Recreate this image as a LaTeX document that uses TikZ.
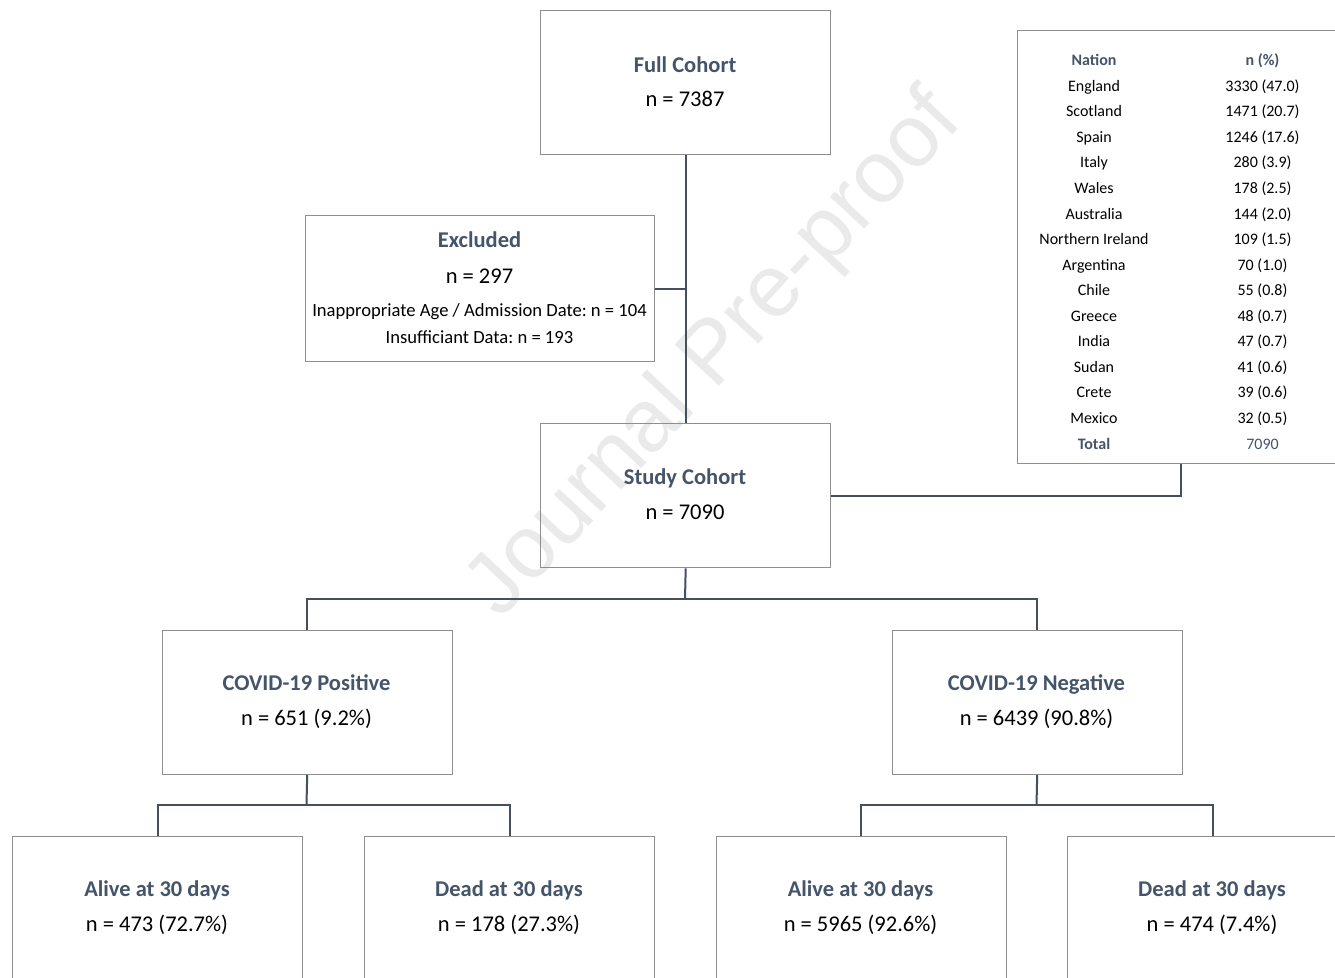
\documentclass[tikz,border=0pt]{standalone}
\usepackage{fontspec}
\setmainfont{Carlito}
\newfontfamily\wmfont{Liberation Sans}
\frenchspacing
\definecolor{titlec}{HTML}{44546A}
\definecolor{boxgray}{HTML}{8E8E8E}
\definecolor{conncol}{HTML}{464F5E}
\definecolor{wmgray}{HTML}{EAEAEA}
\begin{document}
\begin{tikzpicture}[x=1pt,y=-1pt,
  box/.style={draw=boxgray, line width=1.4pt, minimum width=290pt, minimum height=144pt, inner sep=0pt, anchor=north west},
  conn/.style={draw=conncol, line width=2pt},
  ttl/.style={font=\fontsize{22.5}{27}\selectfont\bfseries, text=titlec, anchor=base, inner sep=0pt},
  num/.style={font=\fontsize{22.5}{27}\selectfont, text=black, anchor=base, inner sep=0pt},
  det/.style={font=\fontsize{18.6}{22}\selectfont, text=black, anchor=base, inner sep=0pt},
  tcell/.style={font=\fontsize{16}{19}\selectfont, text=black, anchor=base, inner sep=0pt},
  thead/.style={font=\fontsize{16}{19}\selectfont\bfseries, text=titlec, anchor=base, inner sep=0pt},
  wm/.style={font=\wmfont\fontsize{88}{100}\selectfont, text=wmgray, rotate=47, inner sep=0pt}]
\useasboundingbox (0,0) rectangle (1335,977);
\clip (0,0) rectangle (1335,977);
\fill[white] (0,0) rectangle (1335,977);

% watermark
\node[wm] (wmark) at (716,356) {Journal Pre-proof};

% boxes
\node[box] (full) at (540,10) {};
\node[box, minimum width=349pt, minimum height=146pt] (excl) at (305,215) {};
\node[box, minimum width=326pt, minimum height=433pt] (tbl) at (1017,30) {};
\node[box] (study) at (540,423) {};
\node[box] (pos) at (161.5,629.5) {};
\node[box] (neg) at (891.5,629.5) {};
\node[box] (a1) at (12,835.5) {};
\node[box] (d1) at (364,835.5) {};
\node[box] (a2) at (715.5,835.5) {};
\node[box] (d2) at (1067,835.5) {};

% connectors
\coordinate (jA) at (685,599);
\coordinate (jP) at (306.5,805);
\coordinate (jN) at (1036.5,805);
\draw[conn] (full.south) -- (study.north);
\draw[conn] (excl.east) -- (excl.east -| full.south);
\draw[conn] (study.east) -| (tbl.south);
\draw[conn] (study.south) -- (jA);
\draw[conn] (pos.north) |- (jA) -| (neg.north);
\draw[conn] (pos.south) -- (jP);
\draw[conn] (a1.north) |- (jP) -| (d1.north);
\draw[conn] (neg.south) -- (jN);
\draw[conn] (a2.north) |- (jN) -| (d2.north);

% texts
\node[ttl] (fullT) at (685,72) {Full Cohort};
\node[num] (fullN) at (685,106) {n = 7387};
\node[ttl] (exclT) at (479.5,247) {Excluded};
\node[num] (exclN) at (479.5,283) {n = 297};
\node[det] (exclD1) at (479.5,316) {Inappropriate Age / Admission Date: n = 104};
\node[det] (exclD2) at (479.5,343) {Insufficiant Data: n = 193};
\node[ttl] (studyT) at (685,484) {Study Cohort};
\node[num] (studyN) at (685,519) {n = 7090};
\node[ttl] (posT) at (306.5,690) {COVID-19 Positive};
\node[num] (posN) at (306.5,725) {n = 651 (9.2\%)};
\node[ttl] (negT) at (1036.5,690) {COVID-19 Negative};
\node[num] (negN) at (1036.5,725) {n = 6439 (90.8\%)};
\node[ttl] (a1T) at (157,896) {Alive at 30 days};
\node[num] (a1N) at (157,931) {n = 473 (72.7\%)};
\node[ttl] (d1T) at (509,896) {Dead at 30 days};
\node[num] (d1N) at (509,931) {n = 178 (27.3\%)};
\node[ttl] (a2T) at (860.5,896) {Alive at 30 days};
\node[num] (a2N) at (860.5,931) {n = 5965 (92.6\%)};
\node[ttl] (d2T) at (1212,896) {Dead at 30 days};
\node[num] (d2N) at (1212,931) {n = 474 (7.4\%)};

% table
\node[thead] (hNat) at (1094,65.7) {Nation};
\node[thead] (hN) at (1262.5,65.7) {n (\%)};
\foreach \nat/\val [count=\i] in {England/3330 (47.0), Scotland/1471 (20.7), Spain/1246 (17.6), Italy/280 (3.9), Wales/178 (2.5), Australia/144 (2.0), Northern Ireland/109 (1.5), Argentina/70 (1.0), Chile/55 (0.8), Greece/48 (0.7), India/47 (0.7), Sudan/41 (0.6), Crete/39 (0.6), Mexico/32 (0.5)}{
  \node[tcell] (nat\i) at (1094,65.7+25.55*\i) {\nat};
  \node[tcell] (val\i) at (1262.5,65.7+25.55*\i) {\val};
}
\node[thead] (tTot) at (1094,449) {Total};
\node[tcell, text=titlec] (tTotN) at (1262.5,449) {7090};
\end{tikzpicture}
\end{document}
